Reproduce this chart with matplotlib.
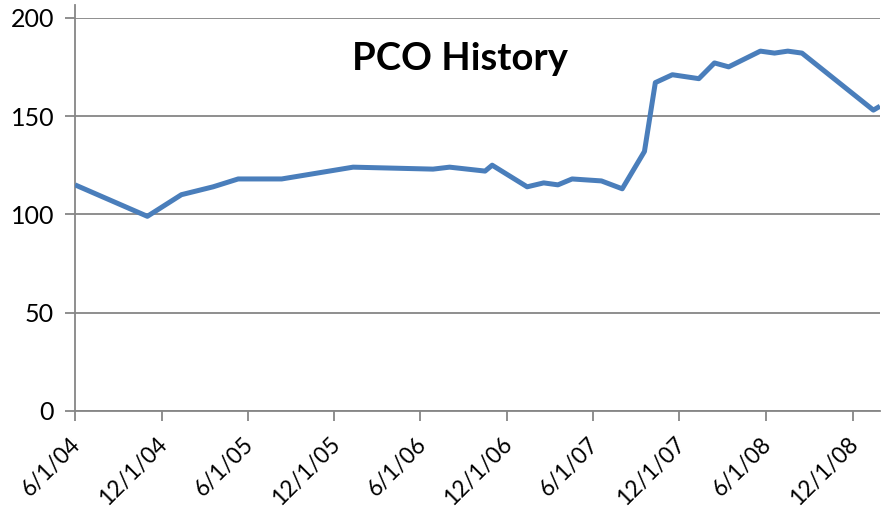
import matplotlib
matplotlib.use("Agg")
import matplotlib.pyplot as plt
import matplotlib.transforms as mtransforms
import pandas as pd

dates = ["2004-06-01", "2004-11-01", "2005-01-12", "2005-03-20", "2005-05-12",
         "2005-08-12", "2006-01-10", "2006-06-28", "2006-08-02", "2006-10-16",
         "2006-10-31", "2007-01-13", "2007-02-17", "2007-03-19", "2007-04-18",
         "2007-06-19", "2007-08-02", "2007-09-18", "2007-10-11", "2007-11-16",
         "2008-01-11", "2008-02-13", "2008-03-14", "2008-05-20", "2008-06-19",
         "2008-07-17", "2008-08-16", "2009-01-14", "2009-01-28"]
values = [115, 99, 110, 114, 118,
          118, 124, 123, 124, 122,
          125, 114, 116, 115, 118,
          117, 113, 132, 167, 171,
          169, 177, 175, 183, 182,
          183, 182, 153, 155]
tick_dates = ["2004-06-01", "2004-12-01", "2005-06-01", "2005-12-01", "2006-06-01",
              "2006-12-01", "2007-06-01", "2007-12-01", "2008-06-01", "2008-12-01"]
tick_labels = ["6/1/04", "12/1/04", "6/1/05", "12/1/05", "6/1/06",
               "12/1/06", "6/1/07", "12/1/07", "6/1/08", "12/1/08"]
y_ticks = [0, 50, 100, 150, 200]
title = "PCO History"

plt.rcParams['font.family'] = ['Lato', 'DejaVu Sans']

W, H = 881, 516
fig = plt.figure(figsize=(W / 100, H / 100), dpi=100)
left, right, top, bottom = 75, 880, 17.7, 411
ax = fig.add_axes([left / W, 1 - bottom / H, (right - left) / W, (bottom - top) / H])

x = pd.to_datetime(dates)
ax.plot(x, values, color="#4A7EBB", lw=3.6, solid_joinstyle="round", solid_capstyle="butt", zorder=3)

ax.set_xlim(x[0], x[-1])
ax.set_ylim(0, 200)
ax.set_yticks(y_ticks)
ax.set_yticklabels([str(v) for v in y_ticks])
ax.set_xticks(pd.to_datetime(tick_dates))
ax.set_xticklabels(tick_labels, rotation=45, ha="right", va="top", rotation_mode="anchor")

grid_c = "#868686"
ax.yaxis.grid(True, color=grid_c, lw=1.3)
ax.set_axisbelow(True)
for s in ["top", "right"]:
    ax.spines[s].set_visible(False)
for s in ["left", "bottom"]:
    ax.spines[s].set_color(grid_c)
    ax.spines[s].set_linewidth(1.3)
ax.spines["left"].set_bounds(0, 206.5)
ax.tick_params(axis="both", colors=grid_c, width=1.3, length=7, labelcolor="black")
ax.tick_params(axis="y", labelsize=18, pad=8)
ax.tick_params(axis="x", labelsize=16.3, pad=9)

shift = mtransforms.ScaledTranslation(-5 / 100, 0, fig.dpi_scale_trans)
for lab in ax.get_xticklabels():
    lab.set_transform(lab.get_transform() + shift)

fig.text(460 / W, 1 - 70 / H, title, ha="center", va="baseline", fontsize=27.5, fontweight="bold")

fig.savefig("out.png", dpi=100)
